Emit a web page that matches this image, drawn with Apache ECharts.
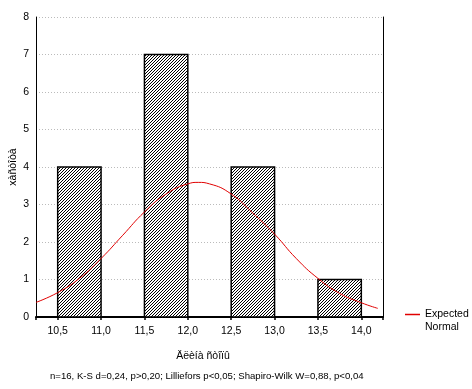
<!DOCTYPE html>
<html>
<head>
<meta charset="utf-8">
<script src="https://cdn.jsdelivr.net/npm/echarts@6/dist/echarts.min.js"></script>
<style>html,body{margin:0;padding:0;background:#fff}#c{width:472px;height:389px}</style>
</head>
<body>
<div id="c"></div>
<script>
// ---- data ----
const binStart = [10.5, 11.5, 12.5, 13.5];
const binEnd = [11.0, 12.0, 13.0, 14.0];
const counts = [4, 7, 4, 1];
const curveX = [10.25, 10.5, 10.75, 11.0, 11.25, 11.5, 11.75, 12.0, 12.12, 12.25, 12.5, 12.75, 13.0, 13.25, 13.5, 13.75, 14.0, 14.19];
const curveY = [0.39, 0.65, 1.03, 1.56, 2.18, 2.80, 3.28, 3.55, 3.59, 3.55, 3.28, 2.77, 2.21, 1.56, 1.03, 0.63, 0.38, 0.23];
const xTicks = [10.5, 11.0, 11.5, 12.0, 12.5, 13.0, 13.5, 14.0];
const xTitle = 'Äëèíà ñòîïû';
const yTitle = 'xàñòîòà';
const statsText = 'n=16, K-S d=0,24, p>0,20; Lilliefors p<0,05; Shapiro-Wilk W=0,88, p<0,04';
const curveName = 'Expected\nNormal';

const FONT = '"Liberation Sans", Arial, sans-serif';
const FS = 10.5;

// hatch pattern
const pc = document.createElement('canvas');
pc.width = 3; pc.height = 3;
const pctx = pc.getContext('2d');
pctx.fillStyle = '#fff'; pctx.fillRect(0, 0, 3, 3);
pctx.fillStyle = '#000';
pctx.fillRect(2, 0, 1, 1); pctx.fillRect(1, 1, 1, 1); pctx.fillRect(0, 2, 1, 1);
const hatch = { image: pc, repeat: 'repeat' };

const bars = binStart.map((s, i) => [s, binEnd[i], counts[i]]);
const curve = curveX.map((x, i) => [x, curveY[i]]);

const chart = echarts.init(document.getElementById('c'), null, { renderer: 'canvas' });
chart.setOption({
  animation: false,
  textStyle: { fontFamily: FONT },
  grid: { left: 36, right: 89, top: 17, bottom: 72, outerBoundsMode: 'none', containLabel: false },
  title: {
    text: statsText, left: 45, top: 366,
    textStyle: { fontFamily: FONT, fontSize: 9.6, fontWeight: 'normal', color: '#000' }
  },
  legend: {
    left: 400, top: 290,
    itemWidth: 15, itemHeight: 1.5, itemGap: 0,
    icon: 'rect',
    data: [curveName],
    formatter: n => ' \n' + n,
    textStyle: { fontFamily: FONT, fontSize: FS, color: '#000', lineHeight: 13 }
  },
  xAxis: [{
    type: 'value', min: 10.25, max: 14.25, position: 'bottom',
    name: xTitle, nameLocation: 'middle', nameGap: 34,
    nameTextStyle: { fontFamily: FONT, fontSize: FS, color: '#000', padding: [0, 13, 0, 0] },
    axisLine: { show: true, lineStyle: { color: '#000', width: 2 } },
    axisTick: { show: false },
    axisLabel: { customValues: xTicks, margin: 9, color: '#000', fontSize: FS, fontFamily: FONT,
      formatter: v => v.toFixed(1).replace('.', ',') },
    splitLine: { show: false }
  }, {
    type: 'value', min: 10.25, max: 14.25, position: 'top', splitNumber: 8,
    axisLine: { show: true, lineStyle: { color: '#000', width: 1 } },
    axisTick: { show: true, inside: true, length: 3, lineStyle: { color: '#000', width: 1.5 } },
    axisLabel: { show: false },
    splitLine: { show: false }
  }],
  yAxis: [{
    type: 'value', min: 0, max: 8, interval: 1, position: 'left',
    name: yTitle, nameLocation: 'middle', nameGap: 17, nameMoveOverlap: false,
    nameTextStyle: { fontFamily: FONT, fontSize: FS, color: '#000' },
    axisLine: { show: true, lineStyle: { color: '#000', width: 1 } },
    axisTick: { show: false },
    axisLabel: { margin: 7, color: '#000', fontSize: FS, fontFamily: FONT },
    splitLine: { show: true, lineStyle: { color: '#bbb', type: [1, 2], width: 1 } }
  }, {
    type: 'value', min: 0, max: 8, interval: 1, position: 'right',
    axisLine: { show: true, lineStyle: { color: '#000', width: 1 } },
    axisTick: { show: false }, axisLabel: { show: false }, splitLine: { show: false }
  }],
  series: [{
    type: 'custom',
    name: 'hist',
    xAxisIndex: 0, yAxisIndex: 0,
    data: bars,
    renderItem: function (params, api) {
      const p0 = api.coord([api.value(0), api.value(2)]);
      const p1 = api.coord([api.value(1), 0]);
      return {
        type: 'rect',
        shape: { x: p0[0], y: p0[1], width: p1[0] - p0[0], height: p1[1] - p0[1] },
        style: { fill: hatch, stroke: '#000', lineWidth: 1.5 }
      };
    },
    z: 2
  }, {
    type: 'line',
    name: curveName,
    xAxisIndex: 0, yAxisIndex: 0,
    data: curve,
    smooth: true,
    showSymbol: false, symbol: 'none',
    lineStyle: { color: '#e00000', width: 1 },
    itemStyle: { color: '#e00000' },
    z: 3
  }]
});
</script>
</body>
</html>
